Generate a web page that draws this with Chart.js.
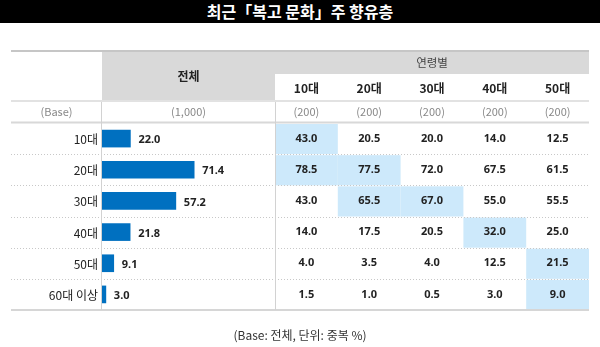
<!DOCTYPE html>
<html>
<head>
<meta charset="utf-8">
<script src="https://cdn.jsdelivr.net/npm/chart.js@4.4.0/dist/chart.umd.min.js"></script>
<style>
    body { margin: 0; background: #fff; }
    #wrap { position: relative; width: 600px; height: 347px; overflow: hidden; font-family: 'Noto Sans CJK KR', 'Noto Sans', sans-serif; }
    #chart { position: absolute; left: 0; top: 0; }
    #title { position: absolute; left: 0; top: 0; width: 600px; height: 23px; background: #000; color: #fff; font-weight: bold; font-size: 16px; line-height: 23px; text-align: center; }
    #note { position: absolute; left: 0; top: 326px; width: 600px; text-align: center; font-size: 12px; line-height: 18px; color: #333; }
</style>
</head>
<body>
<div id="wrap">
    <canvas id="chart" width="600" height="347"></canvas>
    <div id="title">최근「복고 문화」주 향유층</div>
    <div id="note">(Base: 전체, 단위: 중복 %)</div>
</div>
<script>
// rows and the total column (drawn as bars)
const rowLabels = ['10대', '20대', '30대', '40대', '50대', '60대 이상'];
const totals = [22.0, 71.4, 57.2, 21.8, 9.1, 3.0];

// age breakdown columns
const ageGroups = ['10대', '20대', '30대', '40대', '50대'];
const age10 = [43.0, 78.5, 43.0, 14.0, 4.0, 1.5];
const age20 = [20.5, 77.5, 65.5, 17.5, 3.5, 1.0];
const age30 = [20.0, 72.0, 67.0, 20.5, 4.0, 0.5];
const age40 = [14.0, 67.5, 55.0, 32.0, 12.5, 3.0];
const age50 = [12.5, 61.5, 55.5, 25.0, 21.5, 9.0];

// base sizes
const baseTotal = '(1,000)';
const baseAges = ['(200)', '(200)', '(200)', '(200)', '(200)'];

// highlighted cells [row, age column]
const highlighted = [[0, 0], [1, 0], [1, 1], [2, 1], [2, 2], [3, 3], [4, 4], [5, 4]];

const ageColumns = [age10, age20, age30, age40, age50];

// layout
const tableLeft = 11;
const tableRight = 589;
const totalLeft = 102;
const ageLeft = 275;
const colWidth = (tableRight - ageLeft) / ageGroups.length;
const headTop = 51;
const subHeadTop = 74;
const baseTop = 101;
const bodyTop = 123;
const bodyBottom = 310;

const textFont = "'Noto Sans CJK KR', 'Noto Sans', sans-serif";
const numFont = "'Noto Sans', 'Noto Sans CJK KR', sans-serif";

function hLine(ctx, y, color, width, dash) {
    ctx.save();
    ctx.strokeStyle = color;
    ctx.lineWidth = width;
    ctx.setLineDash(dash || []);
    ctx.beginPath();
    ctx.moveTo(tableLeft, y);
    ctx.lineTo(tableRight, y);
    ctx.stroke();
    ctx.restore();
}

const tablePlugin = {
    id: 'tablePlugin',
    beforeDatasetsDraw(chart) {
        const ctx = chart.ctx;
        const y = chart.scales.y;
        const half = (y.getPixelForValue(1) - y.getPixelForValue(0)) / 2;

        // header blocks
        ctx.fillStyle = '#d9d9d9';
        ctx.fillRect(totalLeft, headTop, ageLeft - totalLeft, baseTop - headTop);
        ctx.fillRect(ageLeft, headTop, tableRight - ageLeft, subHeadTop - headTop);

        // highlighted cells
        ctx.fillStyle = '#cde9fb';
        highlighted.forEach(([r, c]) => {
            const cy = y.getPixelForValue(r);
            ctx.fillRect(ageLeft + c * colWidth, cy - half + 1, colWidth, half * 2 - 1);
        });

        // lines
        hLine(ctx, headTop, '#c6c6c6', 2);
        hLine(ctx, baseTop, '#e2e2e2', 2);
        hLine(ctx, bodyTop - 0.5, '#d8d8d8', 2);
        for (let i = 0; i < rowLabels.length - 1; i++) {
            hLine(ctx, Math.round(y.getPixelForValue(i) + half) + 0.5, '#c8c8c8', 1, [1, 2]);
        }
        hLine(ctx, bodyBottom, '#d6d6d6', 2);

        ctx.save();
        ctx.strokeStyle = '#d2d2d2';
        ctx.lineWidth = 1;
        [totalLeft - 0.5, ageLeft + 0.5].forEach(x => {
            ctx.beginPath();
            ctx.moveTo(x, baseTop + 1);
            ctx.lineTo(x, bodyBottom);
            ctx.stroke();
        });
        ctx.restore();
    },
    afterDatasetsDraw(chart) {
        const ctx = chart.ctx;
        const x = chart.scales.x;
        const y = chart.scales.y;
        const totalCenter = (totalLeft + ageLeft) / 2;
        ctx.save();
        ctx.textBaseline = 'middle';

        // header texts
        ctx.textAlign = 'center';
        ctx.fillStyle = '#222';
        ctx.font = 'bold 12px ' + textFont;
        ctx.fillText('전체', totalCenter, 76);
        ctx.font = '11.5px ' + textFont;
        ctx.fillStyle = '#444';
        ctx.fillText('연령별', (ageLeft + tableRight) / 2, 63);
        ctx.font = 'bold 12px ' + textFont;
        ctx.fillStyle = '#222';
        ageGroups.forEach((g, c) => {
            ctx.fillText(g, ageLeft + (c + 0.5) * colWidth, 88);
        });

        // base row
        ctx.font = '11px ' + textFont;
        ctx.fillStyle = '#888';
        ctx.fillText('(Base)', (tableLeft + totalLeft) / 2, 112);
        ctx.fillText(baseTotal, totalCenter, 112);
        baseAges.forEach((b, c) => {
            ctx.fillText(b, ageLeft + (c + 0.5) * colWidth, 112);
        });

        // row labels
        ctx.textAlign = 'right';
        ctx.font = '12px ' + textFont;
        ctx.fillStyle = '#222';
        rowLabels.forEach((lab, i) => {
            ctx.fillText(lab, totalLeft - 4, y.getPixelForValue(i) + 1);
        });

        // bar values
        ctx.textAlign = 'left';
        ctx.font = 'bold 11px ' + numFont;
        totals.forEach((v, i) => {
            ctx.fillText(v.toFixed(1), x.getPixelForValue(v) + 8, y.getPixelForValue(i) + 1.5);
        });

        // age table values
        ctx.textAlign = 'center';
        ageColumns.forEach((col, c) => {
            col.forEach((v, i) => {
                ctx.fillText(v.toFixed(1), ageLeft + (c + 0.5) * colWidth, y.getPixelForValue(i));
            });
        });
        ctx.restore();
    }
};

const ctx = document.getElementById('chart').getContext('2d');
new Chart(ctx, {
    type: 'bar',
    data: {
        labels: rowLabels,
        datasets: [
            {
                data: totals,
                backgroundColor: '#0070c0',
                borderWidth: 0,
                barThickness: 17,
            },
        ],
    },
    options: {
        responsive: false,
        animation: false,
        devicePixelRatio: 1,
        indexAxis: 'y',
        layout: {
            padding: { left: totalLeft, right: 600 - ageLeft, top: bodyTop, bottom: 347 - bodyBottom },
        },
        scales: {
            x: { display: false, min: 0, max: 134 },
            y: { display: false },
        },
        plugins: {
            legend: { display: false },
            tooltip: { enabled: false },
        },
    },
    plugins: [tablePlugin],
});
</script>
</body>
</html>
